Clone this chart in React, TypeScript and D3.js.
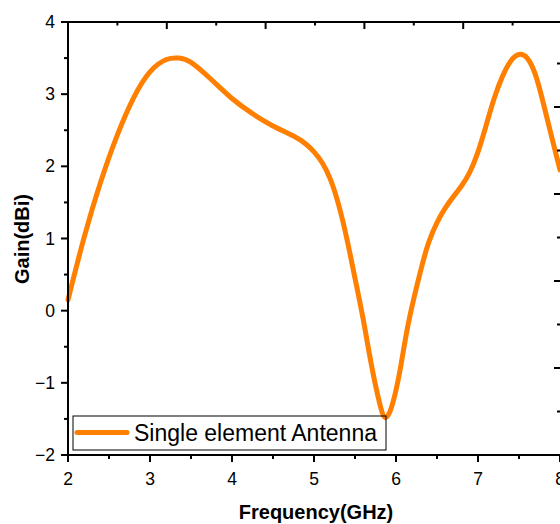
import React from "react";
import * as d3 from "d3";

const freq = [2.0, 2.2, 2.4, 2.6, 2.8, 3.0, 3.2, 3.35, 3.5, 3.75, 4.0, 4.25, 4.5, 4.75, 4.9, 5.0, 5.1, 5.2, 5.3, 5.4, 5.5, 5.6, 5.7, 5.8, 5.87, 5.95, 6.05, 6.15, 6.3, 6.4, 6.5, 6.6, 6.7, 6.8, 6.9, 7.0, 7.1, 7.2, 7.3, 7.4, 7.5, 7.6, 7.7, 7.8, 7.9, 8.0];
const gain = [0.15, 1.03, 1.79, 2.43, 2.95, 3.31, 3.48, 3.5, 3.44, 3.2, 2.94, 2.73, 2.56, 2.42, 2.31, 2.2, 2.05, 1.82, 1.47, 1.0, 0.45, -0.12, -0.75, -1.28, -1.48, -1.32, -0.82, -0.18, 0.55, 0.95, 1.22, 1.42, 1.58, 1.73, 1.92, 2.2, 2.57, 2.95, 3.25, 3.46, 3.55, 3.5, 3.27, 2.86, 2.4, 1.95];
const xTicks = [2, 3, 4, 5, 6, 7, 8];
const yTicks = [-2, -1, 0, 1, 2, 3, 4];
const seriesName = "Single element Antenna";
const xTitle = "Frequency(GHz)";
const yTitle = "Gain(dBi)";

const W = 560, H = 524;
const L = 68, R = 560, T = 22, B = 455;
const color = "#ff7f00";
const font = "Arial, 'Liberation Sans', sans-serif";

export default function App() {
  const x = d3.scaleLinear().domain([2, 8]).range([L, R]);
  const y = d3.scaleLinear().domain([-2, 4]).range([B, T]);
  // twin frame axes (top / right) with their own scales
  const xTop = d3.scaleLinear().domain([0, 5]).range([L, 562]);
  const yRight = d3.scaleLinear().domain([0, 5]).range([B, 20]);

  const pts = freq.map((f, i) => [f, gain[i]] as [number, number]);
  const line = d3.line<[number, number]>().x(d => x(d[0])).y(d => y(d[1])).curve(d3.curveNatural);

  const xMinor = d3.range(2.5, 8, 1);
  const yMinor = d3.range(-1.5, 4, 1);
  const topMaj = d3.range(1, 6, 1);
  const topMin = d3.range(0.5, 5, 1);
  const rMaj = d3.range(1, 5, 1);
  const rMin = d3.range(0.5, 5, 1);

  const fmt = (v: number) => (v < 0 ? "\u2212" + Math.abs(v) : String(v));

  return (
    <svg width={W} height={H} style={{ position: "absolute", left: 0, top: 0, background: "#fff" }} fontFamily={font}>
      <rect x={0} y={0} width={W} height={H} fill="#fff" />
      <path d={line(pts) || ""} fill="none" stroke={color} strokeWidth={5} strokeLinejoin="round" strokeLinecap="round" />

      {/* frame */}
      <g stroke="#000" strokeWidth={2} fill="none">
        <line x1={L} y1={T} x2={R + 2} y2={T} />
        <line x1={L} y1={B} x2={R + 2} y2={B} />
        <line x1={L} y1={T - 1} x2={L} y2={B + 1} />
        <line x1={R + 1} y1={T} x2={R + 1} y2={B} />
        {xTicks.map(t => <line key={"xb" + t} x1={x(t)} x2={x(t)} y1={B} y2={B + 7} />)}
        {xMinor.map(t => <line key={"xm" + t} x1={x(t)} x2={x(t)} y1={B} y2={B + 4} />)}
        {yTicks.map(t => <line key={"yl" + t} x1={L - 7} x2={L} y1={y(t)} y2={y(t)} />)}
        {yMinor.map(t => <line key={"ym" + t} x1={L - 4} x2={L} y1={y(t)} y2={y(t)} />)}
        {topMaj.map(t => <line key={"tj" + t} x1={xTop(t)} x2={xTop(t)} y1={T} y2={T + 7} />)}
        {topMin.map(t => <line key={"tm" + t} x1={xTop(t)} x2={xTop(t)} y1={T} y2={T + 3.5} />)}
        {rMaj.map(t => <line key={"rj" + t} x1={R - 6} x2={R} y1={yRight(t)} y2={yRight(t)} />)}
        {rMin.map(t => <line key={"rm" + t} x1={R - 3} x2={R} y1={yRight(t)} y2={yRight(t)} />)}
      </g>

      {/* tick labels */}
      <g fontSize={17.5} fill="#000">
        {xTicks.map(t => (
          <text key={"xl" + t} x={x(t)} y={485} textAnchor="middle">{t}</text>
        ))}
        {yTicks.map(t => (
          <text key={"yt" + t} x={55} y={y(t) + 6} textAnchor="end">{fmt(t)}</text>
        ))}
      </g>

      <text x={316} y={519} textAnchor="middle" fontSize={20} fontWeight="bold">{xTitle}</text>
      <text transform="translate(29,239) rotate(-90)" textAnchor="middle" fontSize={20} fontWeight="bold">{yTitle}</text>

      {/* legend */}
      <rect x={73} y={416} width={313} height={34} fill="none" stroke="#000" strokeWidth={1} />
      <line x1={77} x2={127} y1={432.5} y2={432.5} stroke={color} strokeWidth={5} strokeLinecap="round" />
      <text x={134} y={441} fontSize={23} fill="#000">{seriesName}</text>
    </svg>
  );
}
